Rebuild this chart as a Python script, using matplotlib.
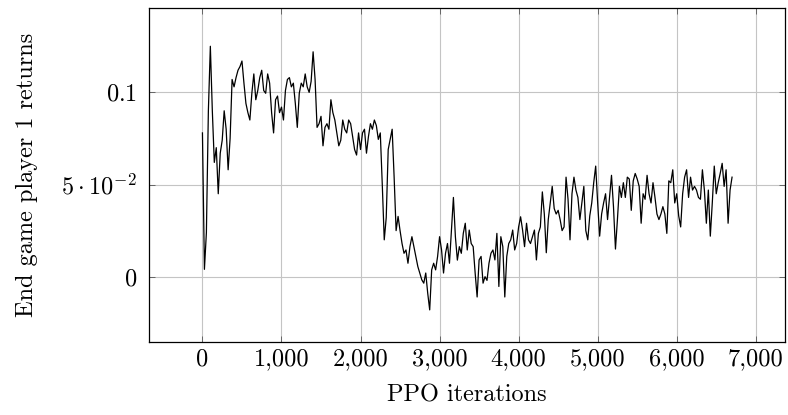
import numpy as np
import matplotlib
matplotlib.use("Agg")
import matplotlib.pyplot as plt

# -------------------- Data --------------------
iter_step = 25  # PPO iterations between samples

returns = [
    # 0 - 1075
    0.078, 0.004, 0.024, 0.090, 0.125, 0.090, 0.062, 0.070, 0.045, 0.067,
    0.074, 0.090, 0.080, 0.058, 0.075, 0.107, 0.103, 0.108, 0.112, 0.114,
    0.117, 0.105, 0.094, 0.089, 0.085, 0.0995, 0.110, 0.096, 0.101, 0.108,
    0.112, 0.101, 0.0995, 0.110, 0.105, 0.089, 0.078, 0.096, 0.098, 0.089,
    0.092, 0.085, 0.101, 0.107,
    # 1100 - 2175
    0.108, 0.103, 0.105, 0.094, 0.081, 0.0995, 0.105, 0.103, 0.110, 0.103,
    0.100, 0.106, 0.122, 0.107, 0.081, 0.083, 0.087, 0.071, 0.081, 0.083,
    0.080, 0.096, 0.089, 0.085, 0.078, 0.071, 0.074, 0.085, 0.080, 0.078,
    0.085, 0.083, 0.076, 0.069, 0.066, 0.078, 0.069, 0.078, 0.080, 0.067,
    0.076, 0.083, 0.080, 0.085,
    # 2200 - 3250
    0.082, 0.0745, 0.078, 0.050, 0.020, 0.032, 0.069, 0.0745, 0.080, 0.054,
    0.025, 0.0327, 0.025, 0.018, 0.0127, 0.0145, 0.0073, 0.0163, 0.0217, 0.0163,
    0.011, 0.0055, 0.002, -0.0017, -0.0035, 0.002, -0.009, -0.018, 0.0037, 0.0073,
    0.0037, 0.011, 0.0217, 0.0145, 0.002, 0.0127, 0.018, 0.0073, 0.025, 0.043,
    0.0217, 0.009, 0.0163,
    # 3275 - 4325
    0.0127, 0.0235, 0.029, 0.0145, 0.0253, 0.018, 0.0163, 0.002, -0.011, 0.0091,
    0.011, -0.0035, 0.000, -0.002, 0.0073, 0.0127, 0.0145, 0.0091, 0.0235, -0.0053,
    0.0217, 0.0163, -0.011, 0.011, 0.018, 0.020, 0.0253, 0.0145, 0.018, 0.027,
    0.0325, 0.0253, 0.0163, 0.029, 0.020, 0.018, 0.0217, 0.0253, 0.0091, 0.0235,
    0.027, 0.046, 0.034,
    # 4350 - 5500
    0.013, 0.031, 0.040, 0.049, 0.037, 0.034, 0.036, 0.031, 0.025, 0.027,
    0.054, 0.042, 0.020, 0.045, 0.054, 0.047, 0.043, 0.031, 0.040, 0.049,
    0.025, 0.020, 0.033, 0.040, 0.051, 0.060, 0.040, 0.022, 0.034, 0.040,
    0.045, 0.031, 0.043, 0.055, 0.038, 0.015, 0.031, 0.049, 0.043, 0.051,
    0.043, 0.054, 0.053, 0.036, 0.052, 0.056, 0.053,
    # 5525 - 6700
    0.049, 0.029, 0.045, 0.042, 0.055, 0.045, 0.040, 0.051, 0.043, 0.034,
    0.031, 0.034, 0.038, 0.034, 0.0235, 0.052, 0.051, 0.058, 0.040, 0.045,
    0.033, 0.027, 0.045, 0.054, 0.058, 0.043, 0.054, 0.047, 0.049, 0.047,
    0.043, 0.042, 0.058, 0.047, 0.029, 0.047, 0.022, 0.040, 0.060, 0.045,
    0.051, 0.056, 0.0615, 0.049, 0.058, 0.029, 0.047, 0.054,
]
iterations = np.arange(len(returns)) * iter_step

x_ticks = [0, 1000, 2000, 3000, 4000, 5000, 6000, 7000]
x_tick_labels = ["0", "1,000", "2,000", "3,000", "4,000", "5,000", "6,000", "7,000"]
y_ticks = [0.0, 0.05, 0.1]
y_tick_labels = ["$0$", r"$5\cdot10^{-2}$", "$0.1$"]

# -------------------- Style --------------------
plt.rcParams["font.family"] = ["cmr10", "DejaVu Serif"]
plt.rcParams["mathtext.fontset"] = "cm"
plt.rcParams["axes.unicode_minus"] = False
fs = 17.5

fig = plt.figure(figsize=(7.88, 4.15), dpi=100)
ax = fig.add_axes([0.1897, 0.176, 0.8065, 0.804])

ax.plot(iterations, returns, color="black", lw=0.9)

ax.set_xlim(-670, 7370)
ax.set_ylim(-0.0354, 0.1456)

ax.set_xticks(x_ticks)
ax.set_xticklabels(x_tick_labels, fontsize=fs)
ax.set_yticks(y_ticks)
ax.set_yticklabels(y_tick_labels, fontsize=fs)

ax.grid(True, color="#c4c4c4", lw=0.8)
ax.set_axisbelow(True)
ax.tick_params(direction="in", length=4.5, width=0.6, color="#555555",
               top=True, right=True)
ax.tick_params(axis="x", pad=4.5)
ax.tick_params(axis="y", pad=9)
for s in ax.spines.values():
    s.set_linewidth(0.9)

ax.set_xlabel("PPO iterations", fontsize=fs, labelpad=10)
ax.set_ylabel("End game player 1 returns", fontsize=fs, labelpad=17)

fig.savefig("out.png", dpi=100)
